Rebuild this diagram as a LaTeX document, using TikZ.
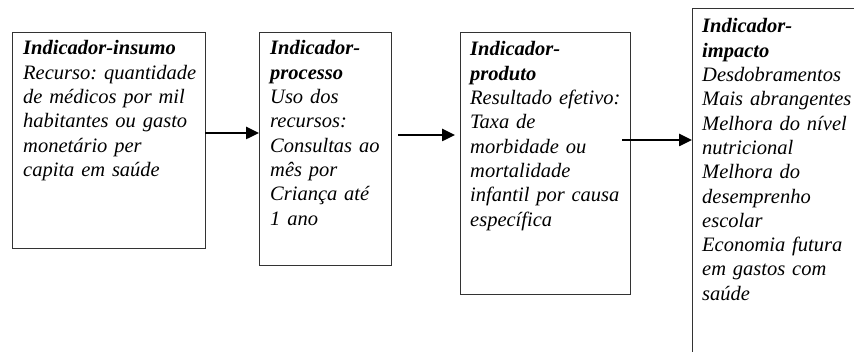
\documentclass[tikz,border=0pt]{standalone}
\usepackage{fontspec}
\setmainfont{Liberation Serif}
\usetikzlibrary{arrows.meta}
\frenchspacing
\tikzset{
  box/.style={draw=black!80, line width=1.1pt, inner sep=0pt, anchor=north west},
  txt/.style={inner sep=0pt, anchor=base west, text width=200pt, align=left,
    font=\fontsize{20.5}{24.3}\selectfont\itshape},
  arr/.style={line width=2.5pt, -{Triangle[length=13pt,width=12pt]}},
}
\newcommand{\ttl}[1]{\textbf{#1}}
\begin{document}
\begin{tikzpicture}[x=1pt,y=-1pt]
\useasboundingbox (0,0) rectangle (854,352);
\clip (0,0) rectangle (854,352);
\fill[white] (0,0) rectangle (854,352);
\node[box, minimum width=193pt, minimum height=216pt] (b1) at (12,32) {};
\node[box, minimum width=132pt, minimum height=233pt] (b2) at (259,32) {};
\node[box, minimum width=170pt, minimum height=262pt] (b3) at (460,32) {};
\node[box, minimum width=200pt, minimum height=380pt] (b4) at (692,8) {};
\node[txt] (t1) at (23,55) {\frenchspacing\ttl{Indicador-insumo}\\Recurso: quantidade\\de médicos por mil\\habitantes ou gasto\\monetário per\\capita em saúde};
\node[txt] (t2) at (270,55) {\ttl{Indicador-}\\\ttl{processo}\\Uso dos\\recursos:\\Consultas ao\\mês por\\Criança até\\1 ano};
\node[txt] (t3) at (470,56) {\frenchspacing\ttl{Indicador-}\\\ttl{produto}\\Resultado efetivo:\\Taxa de\\morbidade ou\\mortalidade\\infantil por causa\\específica};
\node[txt] (t4) at (702,33) {\ttl{Indicador-}\\\ttl{impacto}\\Desdobramentos\\Mais abrangentes\\Melhora do nível\\nutricional\\Melhora do\\desemprenho\\escolar\\Economia futura\\em gastos com\\saúde};
\coordinate (a1s) at (205,133);
\coordinate (a2s) at (398,135);
\coordinate (a2e) at (455,135);
\coordinate (a3s) at (622,140);
\draw[arr] (a1s) -- (b2.west |- a1s);
\draw[arr] (a2s) -- (a2e);
\draw[arr] (a3s) -- (b4.west |- a3s);
\end{tikzpicture}
\end{document}
